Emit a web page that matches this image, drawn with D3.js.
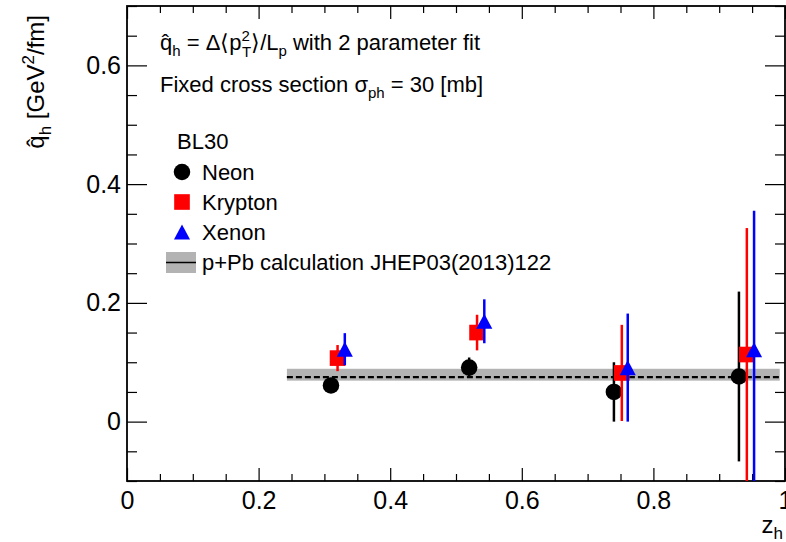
<!DOCTYPE html>
<html>
<head>
<meta charset="utf-8">
<script src="https://cdn.jsdelivr.net/npm/d3@7"></script>
<style>
  html, body { margin: 0; padding: 0; background: #fff; }
  svg { display: block; font-family: "Liberation Sans", Arial, Helvetica, sans-serif; }
</style>
</head>
<body>
<svg id="chart" width="786" height="542"></svg>
<script>
// q-hat extracted per z_h bin, BL30 selection
const neonZ = [0.310, 0.520, 0.740, 0.930];
const neonQ = [0.061, 0.091, 0.050, 0.076];
const neonErr = [0.008, 0.017, 0.050, 0.143];

const kryptonZ = [0.320, 0.532, 0.752, 0.942];
const kryptonQ = [0.107, 0.150, 0.082, 0.113];
const kryptonErr = [0.022, 0.030, 0.081, 0.213];

const xenonZ = [0.331, 0.543, 0.761, 0.953];
const xenonQ = [0.122, 0.169, 0.091, 0.121];
const xenonErr = [0.027, 0.037, 0.091, 0.234];

// p+Pb calculation band and central value
const pPbRange = [0.243, 0.992];
const pPbBand = [0.069, 0.089];
const pPbCentral = 0.075;

const xDomain = [0, 1];
const yDomain = [-0.1, 0.7];
const xTickValues = [0, 0.2, 0.4, 0.6, 0.8, 1];
const yTickValues = [0, 0.2, 0.4, 0.6];
const xTickLabels = ["0", "0.2", "0.4", "0.6", "0.8", "1"];
const yTickLabels = ["0", "0.2", "0.4", "0.6"];

const svg = d3.select("#chart");
const frameL = 127, frameR = 785, frameT = 6, frameB = 481;

const x = d3.scaleLinear().domain(xDomain).range([frameL, frameR]);
const y = d3.scaleLinear().domain(yDomain).range([frameB, frameT]);

// triangle marker centred on its bounding box
const triangleUp = {
  draw(ctx, size) {
    const w = Math.sqrt(size) * 0.75, h = w * 0.94;
    ctx.moveTo(0, -h / 2);
    ctx.lineTo(w / 2, h / 2);
    ctx.lineTo(-w / 2, h / 2);
    ctx.closePath();
  }
};

// minor ticks every 0.05
const isMajor = v => Math.abs(v / 0.2 - Math.round(v / 0.2)) < 1e-6;
const xMinor = d3.range(0, 1.0001, 0.05).filter(v => !isMajor(v));
const yMinor = d3.range(-0.1, 0.7001, 0.05).filter(v => !isMajor(v));

const axisG = svg.append("g");
const labelFont = 25;

// bottom axis (ticks pointing inward)
const xBottom = d3.axisBottom(x).tickValues(xTickValues).tickSizeInner(-13).tickSizeOuter(0)
  .tickFormat((d, i) => xTickLabels[i]).tickPadding(10);
axisG.append("g").attr("transform", `translate(0,${frameB})`).call(xBottom)
  .call(g => g.select(".domain").remove())
  .call(g => g.selectAll("text").attr("font-size", labelFont).attr("font-family", "Liberation Sans, Arial, sans-serif").attr("fill", "#000"));
axisG.append("g").attr("transform", `translate(0,${frameB})`)
  .call(d3.axisBottom(x).tickValues(xMinor).tickSizeInner(-7).tickSizeOuter(0).tickFormat(""))
  .call(g => g.select(".domain").remove());

// top axis
axisG.append("g").attr("transform", `translate(0,${frameT})`)
  .call(d3.axisTop(x).tickValues(xTickValues).tickSizeInner(-13).tickSizeOuter(0).tickFormat(""))
  .call(g => g.select(".domain").remove());
axisG.append("g").attr("transform", `translate(0,${frameT})`)
  .call(d3.axisTop(x).tickValues(xMinor).tickSizeInner(-7).tickSizeOuter(0).tickFormat(""))
  .call(g => g.select(".domain").remove());

// left axis
const yLeft = d3.axisLeft(y).tickValues(yTickValues).tickSizeInner(-20).tickSizeOuter(0)
  .tickFormat((d, i) => yTickLabels[i]).tickPadding(6);
axisG.append("g").attr("transform", `translate(${frameL},0)`).call(yLeft)
  .call(g => g.select(".domain").remove())
  .call(g => g.selectAll("text").attr("font-size", labelFont).attr("font-family", "Liberation Sans, Arial, sans-serif").attr("fill", "#000"));
axisG.append("g").attr("transform", `translate(${frameL},0)`)
  .call(d3.axisLeft(y).tickValues(yMinor).tickSizeInner(-10).tickSizeOuter(0).tickFormat(""))
  .call(g => g.select(".domain").remove());

// right axis
axisG.append("g").attr("transform", `translate(${frameR},0)`)
  .call(d3.axisRight(y).tickValues(yTickValues).tickSizeInner(-20).tickSizeOuter(0).tickFormat(""))
  .call(g => g.select(".domain").remove());
axisG.append("g").attr("transform", `translate(${frameR},0)`)
  .call(d3.axisRight(y).tickValues(yMinor).tickSizeInner(-10).tickSizeOuter(0).tickFormat(""))
  .call(g => g.select(".domain").remove());

axisG.selectAll("line").attr("stroke", "#000").attr("stroke-width", 1.2);

// frame
svg.append("rect").attr("x", frameL).attr("y", frameT).attr("width", frameR - frameL).attr("height", frameB - frameT)
  .attr("fill", "none").attr("stroke", "#000").attr("stroke-width", 1.8);

// axis titles
const yTitle = svg.append("text")
  .attr("transform", `translate(44,15) rotate(-90)`)
  .attr("text-anchor", "end").attr("font-size", 24).attr("fill", "#000");
yTitle.append("tspan").text("q\u0302");
yTitle.append("tspan").attr("font-size", 17).attr("dy", 7).text("h");
yTitle.append("tspan").attr("dy", -7).text(" [GeV");
yTitle.append("tspan").attr("font-size", 17).attr("dy", -10).text("2");
yTitle.append("tspan").attr("dy", 10).text("/fm]");

const xTitle = svg.append("text").attr("x", 783).attr("y", 533).attr("text-anchor", "end")
  .attr("font-size", 24).attr("fill", "#000");
xTitle.append("tspan").text("z");
xTitle.append("tspan").attr("font-size", 17).attr("dy", 6).text("h");

// p+Pb band and central line
const plot = svg.append("g");
plot.append("rect")
  .attr("x", x(pPbRange[0])).attr("width", x(pPbRange[1]) - x(pPbRange[0]))
  .attr("y", y(pPbBand[1])).attr("height", y(pPbBand[0]) - y(pPbBand[1]))
  .attr("fill", "#b3b3b3");
plot.append("line")
  .attr("x1", x(pPbRange[0])).attr("x2", x(pPbRange[1]))
  .attr("y1", y(pPbCentral)).attr("y2", y(pPbCentral))
  .attr("stroke", "#000").attr("stroke-width", 2.2).attr("stroke-dasharray", "6,3");

const clipId = "plotclip";
svg.append("clipPath").attr("id", clipId).append("rect")
  .attr("x", frameL).attr("y", frameT).attr("width", frameR - frameL).attr("height", frameB - frameT);

function drawSeries(zs, qs, errs, color, shape, size) {
  const g = plot.append("g").attr("clip-path", `url(#${clipId})`);
  const data = zs.map((z, i) => ({ z, q: qs[i], e: errs[i] }));
  g.selectAll("line.err").data(data).join("line").attr("class", "err")
    .attr("x1", d => x(d.z)).attr("x2", d => x(d.z))
    .attr("y1", d => y(d.q - d.e)).attr("y2", d => y(d.q + d.e))
    .attr("stroke", color).attr("stroke-width", 2.5);
  const sym = d3.symbol().type(shape).size(size);
  g.selectAll("path.mk").data(data).join("path").attr("class", "mk")
    .attr("transform", d => `translate(${x(d.z)},${y(d.q)})`)
    .attr("d", sym).attr("fill", color);
}

drawSeries(neonZ, neonQ, neonErr, "#000", d3.symbolCircle, 215);
drawSeries(kryptonZ, kryptonQ, kryptonErr, "#ff0000", d3.symbolSquare, 245);
drawSeries(xenonZ, xenonQ, xenonErr, "#0000ff", triangleUp, 460);

// header text
const headFont = 22, subFont = 15;
const h1 = svg.append("text").attr("x", 160).attr("y", 50).attr("font-size", headFont).attr("fill", "#000");
h1.append("tspan").text("q\u0302");
h1.append("tspan").attr("font-size", subFont).attr("dy", 6).text("h");
h1.append("tspan").attr("dy", -6).text(" = \u0394\u27E8p");
h1.append("tspan").attr("font-size", subFont).attr("dy", -9).text("2");
h1.append("tspan").attr("font-size", subFont).attr("dx", -8).attr("dy", 16).text("T");
h1.append("tspan").attr("dy", -7).text("\u27E9/L");
h1.append("tspan").attr("font-size", subFont).attr("dy", 6).text("p");
h1.append("tspan").attr("dy", -6).text(" with 2 parameter fit");

const h2 = svg.append("text").attr("x", 160).attr("y", 92).attr("font-size", headFont).attr("fill", "#000");
h2.append("tspan").text("Fixed cross section \u03C3");
h2.append("tspan").attr("font-size", subFont).attr("dy", 6).text("ph");
h2.append("tspan").attr("dy", -6).text(" = 30 [mb]");

// legend
const legendItems = [
  { label: "Neon", color: "#000", shape: d3.symbolCircle, size: 215 },
  { label: "Krypton", color: "#ff0000", shape: d3.symbolSquare, size: 245 },
  { label: "Xenon", color: "#0000ff", shape: triangleUp, size: 460 }
];
const lg = svg.append("g");
const legFont = 22;
lg.append("text").attr("x", 177).attr("y", 149).attr("font-size", legFont).attr("fill", "#000").text("BL30");
const rowY = [172, 202, 232];
legendItems.forEach((it, i) => {
  lg.append("path").attr("transform", `translate(182,${rowY[i]})`)
    .attr("d", d3.symbol().type(it.shape).size(it.size)).attr("fill", it.color);
  lg.append("text").attr("x", 202).attr("y", rowY[i] + 8).attr("font-size", legFont).attr("fill", "#000").text(it.label);
});
lg.append("rect").attr("x", 166).attr("y", 252).attr("width", 30).attr("height", 21).attr("fill", "#b3b3b3");
lg.append("line").attr("x1", 166).attr("x2", 196).attr("y1", 262.5).attr("y2", 262.5).attr("stroke", "#000").attr("stroke-width", 1.5);
lg.append("text").attr("x", 202).attr("y", 270).attr("font-size", legFont).attr("fill", "#000").text("p+Pb calculation JHEP03(2013)122");
</script>
</body>
</html>
